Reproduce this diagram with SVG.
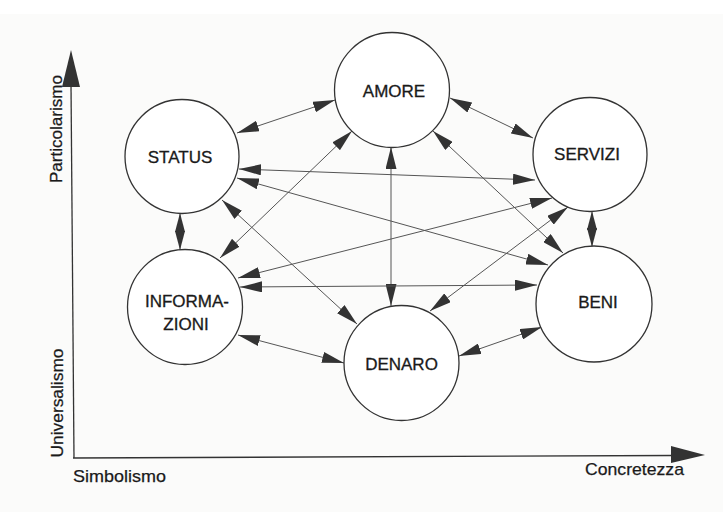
<svg xmlns="http://www.w3.org/2000/svg" width="723" height="512" viewBox="0 0 723 512">
  <defs>
    <marker id="ah" markerUnits="userSpaceOnUse" markerWidth="22" markerHeight="11" viewBox="0 0 22 11" refX="22" refY="5.5" orient="auto-start-reverse">
      <path d="M0,0 L22,5.5 L0,11 Z" fill="#333"/>
    </marker>
    <marker id="ahs" markerUnits="userSpaceOnUse" markerWidth="19" markerHeight="10" viewBox="0 0 19 10" refX="19" refY="5" orient="auto-start-reverse">
      <path d="M0,0 L19,5 L0,10 Z" fill="#333"/>
    </marker>
  </defs>
  <style>
    .node circle { fill: #ffffff; stroke: #333; stroke-width: 1.3; }
    .node text { font-family: "Liberation Sans", Arial, sans-serif; font-size: 17px; fill: #1a1a1a; stroke: #1a1a1a; stroke-width: 0.3; text-anchor: middle; }
    .conn line { stroke: #555; stroke-width: 1; marker-start: url(#ah); marker-end: url(#ah); }
    .conn line.short { marker-start: url(#ahs); marker-end: url(#ahs); }
    .axis line { stroke: #333; stroke-width: 1.3; }
    .axis path { fill: #333; }
    .label { font-family: "Liberation Sans", Arial, sans-serif; font-size: 17px; fill: #1a1a1a; stroke: #1a1a1a; stroke-width: 0.25; }
  </style>
  <rect x="0" y="0" width="723" height="512" fill="#fbfbfa"/>
  <rect x="0" y="0" width="723" height="14" fill="#ffffff"/>

  <g id="axes" class="axis">
    <line x1="74" y1="458" x2="71" y2="84"/>
    <path d="M71,50 L80,87 L62,87 Z"/>
    <line x1="73" y1="458" x2="673" y2="455.5"/>
    <path d="M705,455 L671,446 L671,463 Z"/>
    <text class="label" transform="translate(62,129) rotate(-90)" text-anchor="middle" textLength="108" lengthAdjust="spacingAndGlyphs">Particolarismo</text>
    <text class="label" transform="translate(63,403) rotate(-90)" text-anchor="middle" textLength="109" lengthAdjust="spacingAndGlyphs">Universalismo</text>
    <text class="label" x="73" y="482" textLength="93" lengthAdjust="spacingAndGlyphs">Simbolismo</text>
    <text class="label" x="585" y="475" textLength="99" lengthAdjust="spacingAndGlyphs">Concretezza</text>
  </g>

  <g id="connectors" class="conn">
    <line x1="237" y1="133" x2="335" y2="100"/>
    <line x1="450" y1="98" x2="533" y2="138"/>
    <line class="short" x1="180" y1="213" x2="180" y2="250"/>
    <line class="short" x1="592" y1="211" x2="592" y2="247"/>
    <line x1="238" y1="335" x2="344" y2="363"/>
    <line x1="459" y1="356" x2="542" y2="327"/>
    <line x1="391" y1="147" x2="391" y2="306"/>
    <line x1="239" y1="169" x2="535" y2="180"/>
    <line x1="237" y1="178" x2="548" y2="265"/>
    <line x1="238" y1="278" x2="552" y2="198"/>
    <line x1="240" y1="287" x2="537" y2="285"/>
    <line x1="222" y1="200" x2="357" y2="324"/>
    <line x1="220" y1="258" x2="352" y2="131"/>
    <line x1="433" y1="131" x2="563" y2="253"/>
    <line x1="568" y1="207" x2="430" y2="311"/>
  </g>

  <g id="status" class="node">
    <circle cx="182" cy="156.5" r="57"/>
    <text x="180" y="163">STATUS</text>
  </g>
  <g id="amore" class="node">
    <circle cx="392" cy="90" r="57.5"/>
    <text x="394" y="97">AMORE</text>
  </g>
  <g id="servizi" class="node">
    <circle cx="590" cy="154.5" r="57"/>
    <text x="587" y="160">SERVIZI</text>
  </g>
  <g id="informazioni" class="node">
    <circle cx="185" cy="307" r="57.5"/>
    <text x="187" y="307">INFORMA-</text>
    <text x="186" y="330">ZIONI</text>
  </g>
  <g id="denaro" class="node">
    <circle cx="401.5" cy="363" r="57.5"/>
    <text x="401.5" y="370">DENARO</text>
  </g>
  <g id="beni" class="node">
    <circle cx="594" cy="304" r="58"/>
    <text x="598" y="308">BENI</text>
  </g>
</svg>
